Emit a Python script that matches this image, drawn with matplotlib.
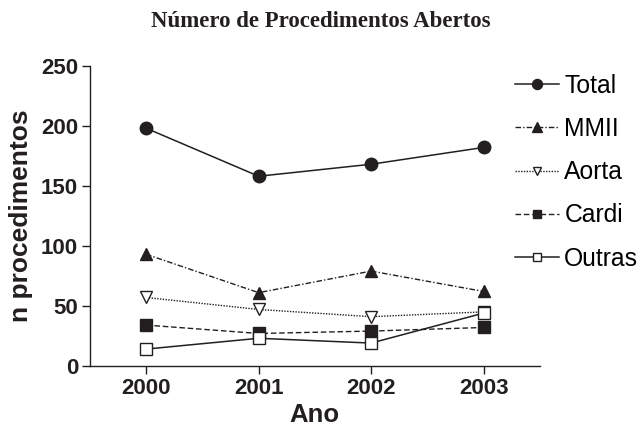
import matplotlib.pyplot as plt

plt.rcParams["font.family"] = ["Liberation Sans", "DejaVu Sans"]

years = [2000, 2001, 2002, 2003]
total = [198, 158, 168, 182]
mmii = [93, 61, 79, 62]
aorta = [57, 47, 41, 45]
cardi = [34, 27, 29, 32]
outras = [14, 23, 19, 44]

ink = "#231f20"

fig = plt.figure(figsize=(6.42, 4.33), dpi=100)
ax = fig.add_axes([0.140, 0.155, 0.701, 0.693])

ax.plot(years, total, color=ink, lw=1.1, ls="-", marker="o", ms=9,
        label="Total")
ax.plot(years, mmii, color=ink, lw=1.0, ls=(0, (4, 1.5, 1, 1.5)),
        marker="^", ms=9, label="MMII")
ax.plot(years, aorta, color=ink, lw=1.0, ls=(0, (1, 1)),
        marker="v", ms=8, mfc="white", label="Aorta")
ax.plot(years, cardi, color=ink, lw=1.0, ls=(0, (4, 2)),
        marker="s", ms=8, label="Cardi")
ax.plot(years, outras, color=ink, lw=1.1, ls="-",
        marker="s", ms=8, mfc="white", label="Outras")

ax.set_xlim(1999.5, 2003.5)
ax.set_ylim(0, 250)
ax.set_xticks(years)
ax.set_yticks([0, 50, 100, 150, 200, 250])
ax.tick_params(labelsize=16, length=6, width=1, color=ink,
               labelcolor=ink, pad=2.5)
for lab in ax.get_xticklabels() + ax.get_yticklabels():
    lab.set_fontweight("bold")
for s in ["top", "right"]:
    ax.spines[s].set_visible(False)
for s in ["left", "bottom"]:
    ax.spines[s].set_color(ink)
    ax.spines[s].set_linewidth(1)

ax.set_xlabel("Ano", fontsize=18.5, fontweight="bold", color=ink, labelpad=3)
ax.set_ylabel("n procedimentos", fontsize=19, fontweight="bold",
              color=ink, labelpad=6)

fig.text(0.5, 0.95, "Número de Procedimentos Abertos", ha="center",
         va="center", fontsize=16.5, fontweight="bold",
         family="Liberation Serif", color=ink)

fig.legend(loc="upper left", bbox_to_anchor=(0.802, 0.830),
           bbox_transform=fig.transFigure, frameon=False,
           fontsize=17.8, handlelength=1.8, labelspacing=0.78,
           handletextpad=0.2, borderpad=0, borderaxespad=0,
           markerscale=0.8)

fig.savefig("out.png", dpi=100)
